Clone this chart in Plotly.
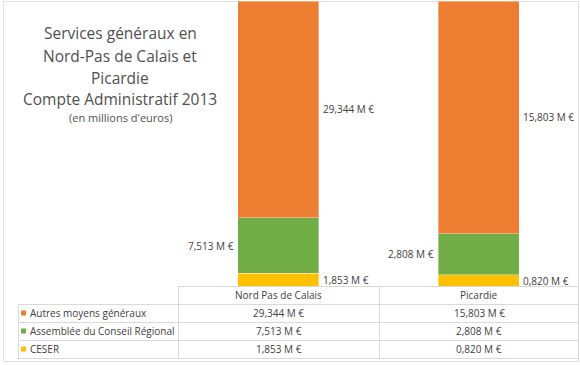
import plotly.graph_objects as go

categories = ["Nord Pas de Calais", "Picardie"]
series_names = ["Autres moyens généraux", "Assemblée du Conseil Régional", "CESER"]
autres = [29.344, 15.803]
assemblee = [7.513, 2.808]
ceser = [1.853, 0.820]
title_lines = ["Services généraux en", "Nord-Pas de Calais et", "Picardie",
               "Compte Administratif 2013"]
subtitle = "(en millions d'euros)"

COL_AUTRES = "#ED7D31"
COL_ASSEMB = "#70AD47"
COL_CESER = "#FFC000"
TXT = "#404040"
GRID = "#D9D9D9"
FONT = "Open Sans"

W, H = 580, 365
PL, PR, PT, PB = 178, 579, 1, 287  # plot area pixel bounds


def px(x):
    return (x - PL) / (PR - PL)


def py(y):
    return (PB - y) / (PB - PT)


def fmt(v):
    return f"{v:.3f}".replace(".", ",") + " M €"


fig = go.Figure()
stack = [("CESER", ceser, COL_CESER), ("Assemblée du Conseil Régional", assemblee, COL_ASSEMB),
         ("Autres moyens généraux", autres, COL_AUTRES)]
for name, vals, col in stack:
    fig.add_trace(go.Bar(x=categories, y=vals, name=name, marker_color=col,
                         marker_line=dict(color="rgba(255,255,255,0.6)", width=0.6),
                         hoverinfo="skip", showlegend=False))

totals = [a + b + c for a, b, c in zip(autres, assemblee, ceser)]
annotations = []
half_bar = 40.5
for i, cat in enumerate(categories):
    t = totals[i]
    c_mid = ceser[i] / 2 / t * 100
    a_mid = (ceser[i] + assemblee[i] / 2) / t * 100
    o_mid = (ceser[i] + assemblee[i] + autres[i] / 2) / t * 100
    annotations.append(dict(x=cat, y=c_mid, xref="x", yref="y", text=fmt(ceser[i]),
                            xanchor="left", xshift=half_bar + 2, showarrow=False,
                            font=dict(size=10, color=TXT, family=FONT)))
    annotations.append(dict(x=cat, y=a_mid, xref="x", yref="y", text=fmt(assemblee[i]),
                            xanchor="right", xshift=-half_bar - 2, showarrow=False,
                            font=dict(size=10, color=TXT, family=FONT)))
    annotations.append(dict(x=cat, y=o_mid, xref="x", yref="y", text=fmt(autres[i]),
                            xanchor="left", xshift=half_bar + 2, showarrow=False,
                            font=dict(size=10, color=TXT, family=FONT)))

# Title
title_y = [33, 56, 78, 99]
for line, yy in zip(title_lines, title_y):
    annotations.append(dict(x=px(120), y=py(yy), xref="paper", yref="paper", text=line,
                            showarrow=False, xanchor="center", yanchor="middle",
                            font=dict(size=15.5, color="#505050", family=FONT)))
annotations.append(dict(x=px(120), y=py(117), xref="paper", yref="paper", text=subtitle,
                        showarrow=False, xanchor="center", yanchor="middle",
                        font=dict(size=11, color="#505050", family=FONT)))

# Data table
col_x = [278.5, 479]
row_y = [313, 331, 349]
row_series = [(series_names[0], autres, COL_AUTRES),
              (series_names[1], assemblee, COL_ASSEMB),
              (series_names[2], ceser, COL_CESER)]
for j, cat in enumerate(categories):
    annotations.append(dict(x=px(col_x[j]), y=py(295), xref="paper", yref="paper", text=cat,
                            showarrow=False, xanchor="center", yanchor="middle",
                            font=dict(size=10, color=TXT, family=FONT)))
shapes = []
for r, (name, vals, col) in enumerate(row_series):
    yy = row_y[r]
    annotations.append(dict(x=px(28), y=py(yy), xref="paper", yref="paper", text=name,
                            showarrow=False, xanchor="left", yanchor="middle",
                            font=dict(size=10, color=TXT, family=FONT)))
    shapes.append(dict(type="rect", xref="paper", yref="paper", x0=px(21), x1=px(26),
                       y0=py(yy - 2.5), y1=py(yy + 2.5), fillcolor=col, line=dict(width=0)))
    for j in range(len(categories)):
        annotations.append(dict(x=px(col_x[j]), y=py(yy), xref="paper", yref="paper",
                                text=fmt(vals[j]), showarrow=False, xanchor="center",
                                yanchor="middle", font=dict(size=10, color=TXT, family=FONT)))


def hline(y, x0, x1, color=GRID):
    shapes.append(dict(type="line", xref="paper", yref="paper", x0=px(x0), x1=px(x1),
                       y0=py(y), y1=py(y), line=dict(color=color, width=1)))


def vline(x, y0, y1, color=GRID):
    shapes.append(dict(type="line", xref="paper", yref="paper", x0=px(x), x1=px(x),
                       y0=py(y0), y1=py(y1), line=dict(color=color, width=1)))


hline(286.5, 178, 579)
for yy in [304.5, 322.5, 340.5, 358.5]:
    hline(yy, 18, 579)
vline(18.5, 304, 358.5)
for xx in [178.5, 379.5, 578.5]:
    vline(xx, 286, 358.5)
# outer chart border
shapes.append(dict(type="rect", xref="paper", yref="paper", x0=px(3.5), x1=px(578.5),
                   y0=py(361.5), y1=py(1.5), line=dict(color="#E0E0E0", width=1),
                   layer="below"))

fig.update_layout(
    width=W, height=H,
    margin=dict(l=PL, r=W - PR, t=PT, b=H - PB, pad=0),
    barmode="stack", barnorm="percent", bargap=0.596,
    paper_bgcolor="white", plot_bgcolor="white",
    xaxis=dict(showticklabels=False, showgrid=False, zeroline=False, showline=False,
               range=[-0.5, 1.5], fixedrange=True),
    yaxis=dict(range=[0, 100], visible=False, showgrid=False, fixedrange=True),
    annotations=annotations, shapes=shapes, showlegend=False,
    font=dict(family=FONT, color=TXT),
)

fig.write_html("out.html", config={"displayModeBar": False},
               post_script="document.body.style.margin='0';document.body.style.overflow='hidden';")
